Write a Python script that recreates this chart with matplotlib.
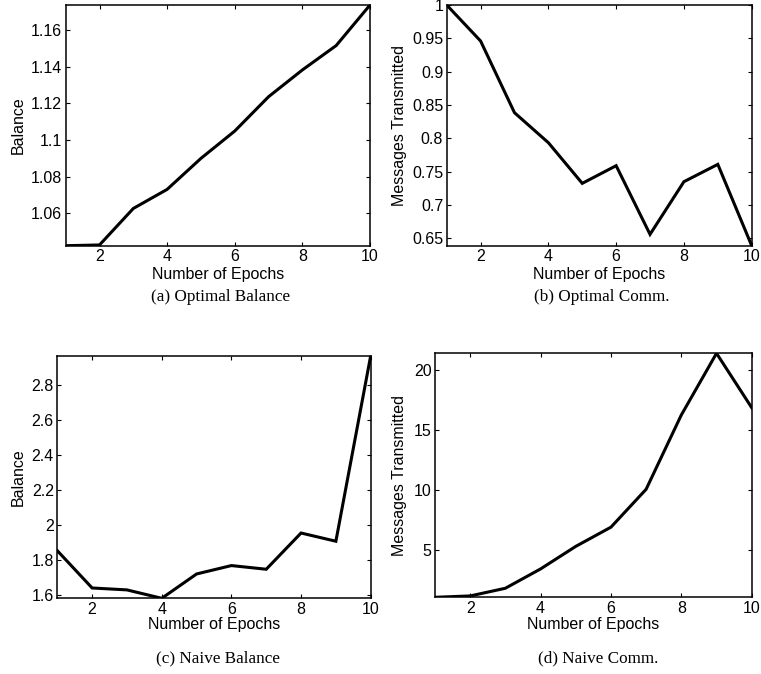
import matplotlib
matplotlib.use("Agg")
import matplotlib.pyplot as plt
from matplotlib.ticker import FixedLocator, FuncFormatter

# ── Data ─────────────────────────────────────────────────────────────

epochs = [1, 2, 3, 4, 5, 6, 7, 8, 9, 10]
optimal_balance = [1.0424, 1.0428, 1.0627, 1.0731, 1.0900, 1.1049, 1.1236, 1.1382, 1.1515, 1.1736]
optimal_comm = [1.0, 0.946, 0.8385, 0.7935, 0.7325, 0.759, 0.656, 0.735, 0.761, 0.639]
naive_balance = [1.851, 1.638, 1.627, 1.579, 1.718, 1.766, 1.745, 1.952, 1.905, 2.965]
naive_comm = [1.056, 1.17, 1.81, 3.42, 5.3, 6.9, 10.06, 16.25, 21.39, 16.86]

x_ticks = [2, 4, 6, 8, 10]
yticks_opt_bal = [1.06, 1.08, 1.10, 1.12, 1.14, 1.16]
yticks_opt_comm = [0.65, 0.70, 0.75, 0.80, 0.85, 0.90, 0.95, 1.0]
yticks_naive_bal = [1.6, 1.8, 2.0, 2.2, 2.4, 2.6, 2.8]
yticks_naive_comm = [5, 10, 15, 20]

captions = ["(a) Optimal Balance", "(b) Optimal Comm.", "(c) Naive Balance", "(d) Naive Comm."]
ylabels = ["Balance", "Messages Transmitted", "Balance", "Messages Transmitted"]

# ── Layout (pixels in a 761x674 canvas) ──────────────────────────────

W, H = 761, 674
SANS = "Liberation Sans"
SERIF = "Liberation Serif"
FS = 11.5

# left, right, top, bottom of each axes box
boxes = [
    (65.7, 370.0, 5.0, 245.7),
    (446.7, 751.7, 5.0, 245.7),
    (57.3, 370.7, 355.7, 598.3),
    (435.0, 751.7, 353.3, 597.3),
]
ylabel_x = [18.3, 399.7, 18.3, 399.7]
xlabel_y = [275.0, 275.0, 625.0, 625.0]
caption_pos = [(220.8, 296.7), (602.0, 296.7), (218.3, 658.0), (598.0, 658.0)]


def fmt(v, _pos):
    return "%g" % round(v, 6)


def draw_panel(fig, box, values, yticks, ylabel, ylab_x, xlab_y, caption, cap_pos):
    left, right, top, bottom = box
    ax = fig.add_axes([left / W, 1 - bottom / H, (right - left) / W, (bottom - top) / H])
    ax.plot(epochs, values, color="black", lw=2.2, solid_joinstyle="miter")

    # axis tight, like the original
    ax.set_xlim(min(epochs), max(epochs))
    ax.set_ylim(min(values), max(values))

    ax.xaxis.set_major_locator(FixedLocator(x_ticks))
    ax.yaxis.set_major_locator(FixedLocator(yticks))
    ax.xaxis.set_major_formatter(FuncFormatter(fmt))
    ax.yaxis.set_major_formatter(FuncFormatter(fmt))
    ax.tick_params(direction="in", length=3, width=0.8, top=True, right=True,
                   labelsize=FS, pad=2.5)
    for lab in ax.get_xticklabels() + ax.get_yticklabels():
        lab.set_fontfamily(SANS)
    for sp in ax.spines.values():
        sp.set_linewidth(1.1)

    ax.set_xlabel("Number of Epochs", fontsize=FS, fontfamily=SANS)
    ax.xaxis.set_label_coords(0.5, -(xlab_y - bottom) / (bottom - top))
    ax.xaxis.label.set_va("center")

    ax.set_ylabel(ylabel, fontsize=FS, fontfamily=SANS)
    ax.yaxis.set_label_coords(-(left - ylab_x) / (right - left), 0.5)
    ax.yaxis.label.set_va("center")

    fig.text(cap_pos[0] / W, 1 - cap_pos[1] / H, caption, ha="center", va="center",
             fontsize=12.3, fontfamily=SERIF)
    return ax


fig = plt.figure(figsize=(W / 100, H / 100), dpi=100)
series = [optimal_balance, optimal_comm, naive_balance, naive_comm]
ticks = [yticks_opt_bal, yticks_opt_comm, yticks_naive_bal, yticks_naive_comm]
for i in range(4):
    draw_panel(fig, boxes[i], series[i], ticks[i], ylabels[i], ylabel_x[i],
               xlabel_y[i], captions[i], caption_pos[i])

fig.savefig("out.png", dpi=100)
